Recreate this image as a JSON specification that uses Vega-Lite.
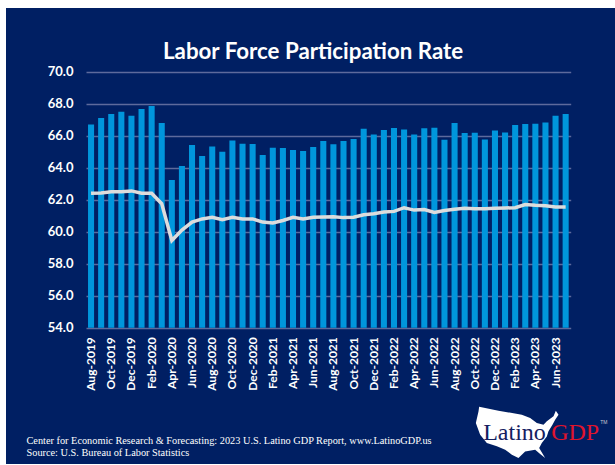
{
"$schema":"https://vega.github.io/schema/vega-lite/v6.json",
"width":609,"height":456,
"autosize":{"type":"none"},
"padding":{"left":6,"top":8,"right":0,"bottom":1},
"background":"#ffffff",
"view":{"fill":"#001f63","stroke":null},
"title":{"text":"Labor Force Participation Rate","font":"Lato","fontWeight":"bold","fontSize":22.3,"color":"#ffffff","anchor":"start","frame":"group","offset":-55,"dx":157},
"datasets":{
"main":[
{"month":"Aug-2019","lfpr":66.7,"rate":62.4},{"month":"Sep-2019","lfpr":67.1,"rate":62.42},{"month":"Oct-2019","lfpr":67.35,"rate":62.5},{"month":"Nov-2019","lfpr":67.5,"rate":62.5},{"month":"Dec-2019","lfpr":67.25,"rate":62.55},{"month":"Jan-2020","lfpr":67.67,"rate":62.4},{"month":"Feb-2020","lfpr":67.85,"rate":62.4},{"month":"Mar-2020","lfpr":66.8,"rate":61.75},{"month":"Apr-2020","lfpr":63.23,"rate":59.45},{"month":"May-2020","lfpr":64.1,"rate":60.1},{"month":"Jun-2020","lfpr":65.42,"rate":60.6},{"month":"Jul-2020","lfpr":64.73,"rate":60.8},
{"month":"Aug-2020","lfpr":65.33,"rate":60.9},{"month":"Sep-2020","lfpr":65.0,"rate":60.75},{"month":"Oct-2020","lfpr":65.7,"rate":60.9},{"month":"Nov-2020","lfpr":65.5,"rate":60.8},{"month":"Dec-2020","lfpr":65.48,"rate":60.8},{"month":"Jan-2021","lfpr":64.8,"rate":60.6},{"month":"Feb-2021","lfpr":65.25,"rate":60.55},{"month":"Mar-2021","lfpr":65.23,"rate":60.7},{"month":"Apr-2021","lfpr":65.1,"rate":60.9},{"month":"May-2021","lfpr":65.04,"rate":60.8},{"month":"Jun-2021","lfpr":65.3,"rate":60.9},{"month":"Jul-2021","lfpr":65.67,"rate":60.92},
{"month":"Aug-2021","lfpr":65.46,"rate":60.94},{"month":"Sep-2021","lfpr":65.67,"rate":60.88},{"month":"Oct-2021","lfpr":65.8,"rate":60.9},{"month":"Nov-2021","lfpr":66.44,"rate":61.06},{"month":"Dec-2021","lfpr":66.08,"rate":61.12},{"month":"Jan-2022","lfpr":66.35,"rate":61.23},{"month":"Feb-2022","lfpr":66.48,"rate":61.27},{"month":"Mar-2022","lfpr":66.38,"rate":61.5},{"month":"Apr-2022","lfpr":66.08,"rate":61.35},{"month":"May-2022","lfpr":66.46,"rate":61.38},{"month":"Jun-2022","lfpr":66.5,"rate":61.2},{"month":"Jul-2022","lfpr":65.75,"rate":61.33},
{"month":"Aug-2022","lfpr":66.8,"rate":61.4},{"month":"Sep-2022","lfpr":66.17,"rate":61.46},{"month":"Oct-2022","lfpr":66.19,"rate":61.44},{"month":"Nov-2022","lfpr":65.77,"rate":61.44},{"month":"Dec-2022","lfpr":66.33,"rate":61.46},{"month":"Jan-2023","lfpr":66.2,"rate":61.48},{"month":"Feb-2023","lfpr":66.67,"rate":61.5},{"month":"Mar-2023","lfpr":66.73,"rate":61.7},{"month":"Apr-2023","lfpr":66.75,"rate":61.65},{"month":"May-2023","lfpr":66.83,"rate":61.62},{"month":"Jun-2023","lfpr":67.25,"rate":61.55},{"month":"Jul-2023","lfpr":67.35,"rate":61.55}
]},
"data":{"name":"main"},
"layer":[
{"mark":{"type":"bar","color":"#0096dc"},
 "encoding":{
  "x":{"field":"month","type":"nominal","sort":null,"scale":{"range":[80,564.7],"paddingInner":0.4,"paddingOuter":0.2},
   "axis":{"values":["Aug-2019","Oct-2019","Dec-2019","Feb-2020","Apr-2020","Jun-2020","Aug-2020","Oct-2020","Dec-2020","Feb-2021","Apr-2021","Jun-2021","Aug-2021","Oct-2021","Dec-2021","Feb-2022","Apr-2022","Jun-2022","Aug-2022","Oct-2022","Dec-2022","Feb-2023","Apr-2023","Jun-2023"],
    "offset":-136.3,"labelAngle":-90,"labelColor":"#ffffff","labelFont":"Lato","labelFontWeight":"bold","labelFontSize":12,"labelPadding":9,"ticks":false,"domain":false,"grid":false,
    "title":["Center for Economic Research & Forecasting: 2023 U.S. Latino GDP Report, www.LatinoGDP.us","Source: U.S. Bureau of Labor Statistics"],
    "titleFont":"Liberation Serif","titleFontWeight":"normal","titleFontSize":10.3,"titleColor":"#ffffff","titleAlign":"left","titleAnchor":"start","titleX":20,"titleY":116,"titleLineHeight":12,"titleBaseline":"alphabetic"}},
  "y":{"field":"lfpr","type":"quantitative","stack":null,"scale":{"domain":[54,70],"range":[319.7,63.7],"nice":false,"zero":false},
   "axis":{"values":[54,56,58,60,62,64,66,68,70],"format":".1f","offset":-80,"title":null,"domain":false,"ticks":false,"labelColor":"#ffffff","labelFont":"Lato","labelFontWeight":"bold","labelFontSize":13,"labelPadding":13,"grid":true,"gridColor":"#5d6a9c","gridWidth":1.5,"gridOpacity":1}},
  "y2":{"datum":54}
 }},
{"mark":{"type":"line","color":"#dcdcdc","strokeWidth":3.5,"strokeJoin":"miter"},
 "encoding":{"x":{"field":"month","type":"nominal","sort":null},"y":{"field":"rate","type":"quantitative"}}},
{"data":{"values":[{"month":"Feb-2023","level":47.5}]},
 "mark":{"type":"point","filled":true,"fill":"#ffffff","opacity":1,"size":7225,"stroke":null,
  "shape":"M-0.847,-0.588L-0.392,-0.494L0.157,-0.4L0.353,-0.322L0.51,-0.204L0.667,-0.165L0.745,-0.243L0.902,-0.361L0.957,-0.494L1.02,-0.4L0.941,-0.282L0.878,-0.165L0.784,-0.008L0.745,0.11L0.627,0.267L0.565,0.384L0.706,0.62L0.588,0.525L0.471,0.424L0.235,0.463L0.078,0.62L-0.078,0.541L-0.235,0.424L-0.431,0.345L-0.667,0.267L-0.824,0.071L-0.925,-0.204L-0.863,-0.478Z"},
 "encoding":{"x":{"field":"month","type":"nominal","sort":null},"y":{"field":"level","type":"quantitative"}}},
{"data":{"values":[{"month":"Feb-2023","level":46.98,"logo":"Latino"}]},
 "mark":{"type":"text","font":"Liberation Serif","fontSize":24,"color":"#14205f","align":"left","baseline":"alphabetic","dx":-32},
 "encoding":{"x":{"field":"month","type":"nominal","sort":null},"y":{"field":"level","type":"quantitative"},"text":{"field":"logo"}}},
{"data":{"values":[{"month":"Feb-2023","level":46.98,"logo":"GDP"}]},
 "mark":{"type":"text","font":"Liberation Serif","fontSize":24,"color":"#e0142d","align":"left","baseline":"alphabetic","dx":36},
 "encoding":{"x":{"field":"month","type":"nominal","sort":null},"y":{"field":"level","type":"quantitative"},"text":{"field":"logo"}}},
{"data":{"values":[{"month":"Feb-2023","level":48,"logo":"TM"}]},
 "mark":{"type":"text","font":"Liberation Sans","fontSize":5,"color":"#c8c8d0","align":"left","baseline":"alphabetic","dx":85},
 "encoding":{"x":{"field":"month","type":"nominal","sort":null},"y":{"field":"level","type":"quantitative"},"text":{"field":"logo"}}}
]
}
